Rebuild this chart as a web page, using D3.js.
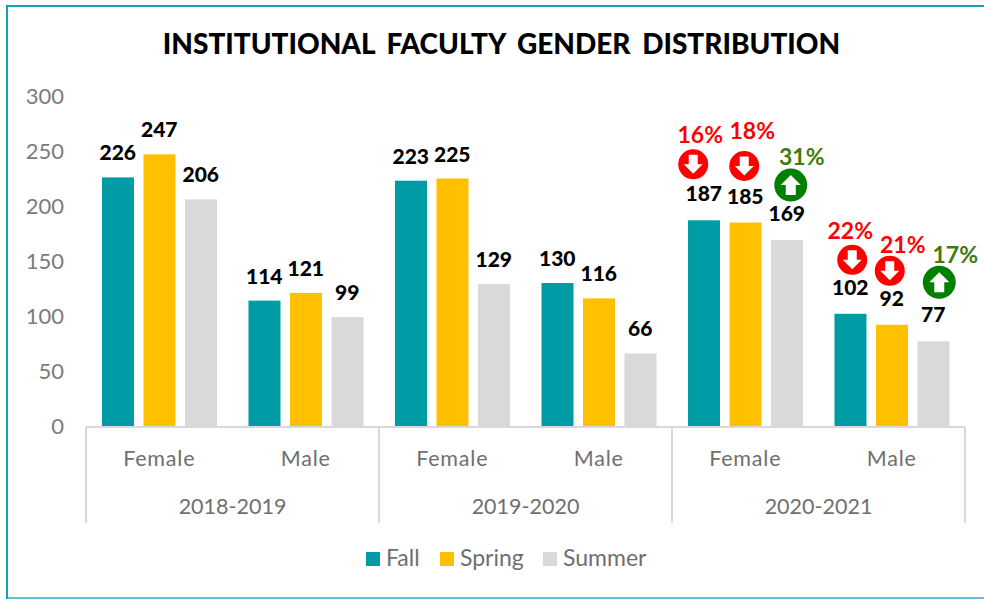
<!DOCTYPE html>
<html><head><meta charset="utf-8">
<script src="https://cdn.jsdelivr.net/npm/d3@7"></script>
<style>html,body{margin:0;padding:0;background:#fff}svg{display:block}</style></head>
<body><svg id="c" width="984" height="599"></svg>
<script>
const years=["2018-2019","2019-2020","2020-2021"];
const genders=["Female","Male"];
const seriesNames=["Fall","Spring","Summer"];
const seriesColors=["#009CA6","#FFC000","#D9D9D9"];
const fall=[226,114,223,130,187,102];
const spring=[247,121,225,116,185,92];
const summer=[206,99,129,66,169,77];
const yTicks=[0,50,100,150,200,250,300];
const changePct=["16%","18%","31%","22%","21%","17%"];
const changeDir=["down","down","up","down","down","up"];
// annotation offsets from each bar's centre / top
const changeDx=[-10.5,-1,4,2,-2,6];
const changeDy=[-56,-56.5,-55,-54,-54,-59];
const pctDx=[7,8,11,-2,13,16];
const pctDy=[-21,-27,-20,-21,-18,-19];

const W=984,H=599,L=86,R=965,B=426,T=96;
const svg=d3.select("#c");
const sans="Lato, 'Noto Sans', sans-serif";
const head="Lato, 'Open Sans', sans-serif";

svg.append("rect").attr("x",7).attr("y",6).attr("width",W).attr("height",592)
 .attr("fill","#fff").attr("stroke","#12A5B0").attr("stroke-width",2);
svg.append("line").attr("x1",8).attr("x2",W).attr("y1",598).attr("y2",598)
 .attr("stroke","#5CC4CC").attr("stroke-width",2);

svg.append("text").attr("x",501.5).attr("y",54).attr("text-anchor","middle")
 .attr("font-family",head).attr("font-weight",900).attr("font-size",28)
 .attr("word-spacing",5).attr("fill","#000").text("INSTITUTIONAL FACULTY GENDER DISTRIBUTION");

const y=d3.scaleLinear().domain([0,300]).range([B,T]);
const cats=d3.range(6);
const x0=d3.scaleBand().domain(cats).range([L,R]);
const x1=d3.scaleBand().domain(seriesNames).range([0,x0.bandwidth()]).paddingInner(0.217).paddingOuter(0.373);
const yearX=d3.scaleBand().domain(years).range([L,R]);

const yAxis=d3.axisLeft(y).tickValues(yTicks).tickSize(0).tickPadding(0);
const gy=svg.append("g").attr("transform",`translate(64,0)`).call(yAxis);
gy.select(".domain").remove();
gy.selectAll("text").attr("font-family",sans).attr("font-size",22).attr("fill","#7b7b7b").attr("dy","0.36em");

const values=[fall,spring,summer];
seriesNames.forEach((s,i)=>{
  const g=svg.append("g");
  g.selectAll("rect").data(values[i]).join("rect")
   .attr("x",(d,k)=>x0(k)+x1(s)+0.5).attr("width",x1.bandwidth()-0.5)
   .attr("y",d=>y(d)).attr("height",d=>B-y(d)).attr("fill",seriesColors[i]);
  g.selectAll("text").data(values[i]).join("text")
   .attr("x",(d,k)=>x0(k)+x1(s)+x1.bandwidth()/2).attr("y",(d,k)=>y(d)-(k>=4?19:17))
   .attr("text-anchor","middle").attr("font-family",head).attr("font-weight",900)
   .attr("font-size",21).attr("fill","#000").text(d=>d);
});

// multi-level axis
const ax=svg.append("g").attr("stroke","#D9D9D9").attr("stroke-width",2).attr("fill","none");
ax.append("line").attr("x1",L).attr("x2",R).attr("y1",y(0)+1).attr("y2",y(0)+1);
[L,...years.map(d=>yearX(d)+yearX.bandwidth())].forEach(v=>{
  ax.append("line").attr("x1",v).attr("x2",v).attr("y1",y(0)+1).attr("y2",523);
});
cats.forEach(k=>{
  svg.append("text").attr("x",x0(k)+x0.bandwidth()/2).attr("y",466).attr("text-anchor","middle")
   .attr("font-family",sans).attr("font-size",21.5).attr("letter-spacing",0.8).attr("fill","#6f6f6f").text(genders[k%2]);
});
years.forEach(v=>{
  svg.append("text").attr("x",yearX(v)+yearX.bandwidth()/2).attr("y",514).attr("text-anchor","middle")
   .attr("font-family",sans).attr("font-size",21.5).attr("fill","#6f6f6f").text(v);
});

// legend
const legendStep={Fall:366,Spring:440,Summer:543};
seriesNames.forEach((s,i)=>{
  svg.append("rect").attr("x",legendStep[s]).attr("y",552).attr("width",14).attr("height",14).attr("fill",seriesColors[i]);
  svg.append("text").attr("x",legendStep[s]+20).attr("y",566).attr("font-family",sans)
   .attr("font-size",23).attr("fill","#6f6f6f").text(s);
});

// change annotations on the 2020-2021 bars
const lastCats=[4,4,4,5,5,5];
changePct.forEach((p,i)=>{
  const s=seriesNames[i%3], k=lastCats[i], v=values[i%3][k];
  const cx=x0(k)+x1(s)+x1.bandwidth()/2+changeDx[i];
  const cy=y(v)+changeDy[i];
  const up=changeDir[i]==="up";
  const r=up?16.5:15;
  const col=up?"#008000":"#FF0000";
  const g=svg.append("g").attr("transform",`translate(${cx},${cy})`);
  g.append("circle").attr("r",r).attr("fill",col);
  const arrow=d3.path();
  const w=up?10:9.5,h=up?10:9.5,sw=up?5:4.5;
  arrow.moveTo(-sw,-h);arrow.lineTo(sw,-h);arrow.lineTo(sw,0);arrow.lineTo(w,0);
  arrow.lineTo(0,h);arrow.lineTo(-w,0);arrow.lineTo(-sw,0);arrow.closePath();
  g.append("path").attr("d",arrow.toString()).attr("fill","#fff").attr("transform",up?"scale(1,-1)":null);
  svg.append("text").attr("x",cx+pctDx[i]).attr("y",cy+pctDy[i])
   .attr("text-anchor","middle").attr("font-family",head).attr("font-weight",700)
   .attr("font-size",23).attr("fill",up?"#3F7A0C":"#FF0000").text(p);
});
</script></body></html>
